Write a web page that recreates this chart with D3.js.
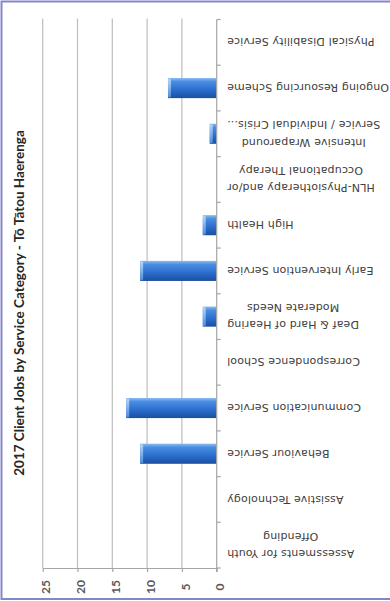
<!doctype html>
<html>
<head>
<meta charset="utf-8">
<style type="text/css">
html,body{
    margin: 0;
    background: #ffffff;
    overflow: hidden;
}
</style>
<script src="https://cdn.jsdelivr.net/npm/d3@7"></script>
</head>
<body>
<script type="text/javascript">
// data, in the chart's own category order (first one ends up at the bottom)
var categories = [
    "Assessments for Youth\nOffending",
    "Assistive Technology",
    "Behaviour Service",
    "Communication Service",
    "Correspondence School",
    "Deaf & Hard of Hearing\nModerate Needs",
    "Early Intervention Service",
    "High Health",
    "HLN-Physiotherapy and/or\nOccupational Therapy",
    "Intensive Wraparound\nService / Individual Crisis...",
    "Ongoing Resourcing Scheme",
    "Physical Disability Service"
];
var jobs = [0, 0, 11, 13, 0, 2, 11, 2, 0, 1, 7, 0];
var valueTicks = [0, 5, 10, 15, 20, 25];
var title = "2017 Client Jobs by Service Category - T\u014d T\u0101tou Haerenga";

(function(){
    var w = 390, h = 601,
        left = 42.7, right = 216.7,
        top = 19.5, bottom = 568;

    var svg = d3.select("body").append("svg")
        .attr("width", w)
        .attr("height", h);

    var defs = svg.append("defs");
    var grad = defs.append("linearGradient")
        .attr("id", "barGrad")
        .attr("x1", 0).attr("y1", 0).attr("x2", 0).attr("y2", 1);
    grad.append("stop").attr("offset", "0%").attr("stop-color", "#8dbcf0");
    grad.append("stop").attr("offset", "18%").attr("stop-color", "#4a8ee2");
    grad.append("stop").attr("offset", "60%").attr("stop-color", "#2b6dcc");
    grad.append("stop").attr("offset", "100%").attr("stop-color", "#1a4f9f");
    var capGrad = defs.append("linearGradient")
        .attr("id", "capGrad")
        .attr("x1", 0).attr("y1", 0).attr("x2", 0).attr("y2", 1);
    capGrad.append("stop").attr("offset", "0%").attr("stop-color", "#b6d6f8");
    capGrad.append("stop").attr("offset", "100%").attr("stop-color", "#4d8ddc");

    // frame
    svg.append("rect")
        .attr("x", 1.5).attr("y", 1.5)
        .attr("width", 420).attr("height", 597.5)
        .attr("fill", "none")
        .attr("stroke", "#8585c9")
        .attr("stroke-width", 2);

    var x = d3.scaleLinear().domain([0, 25]).range([right, left]);
    var y = d3.scaleBand().domain(categories).range([bottom, top])
        .paddingInner(0.56).paddingOuter(0.28);
    var step = y.step();

    // gridlines
    svg.append("g").selectAll("line")
        .data(valueTicks.slice(1))
        .enter().append("line")
            .attr("x1", function(d){return x(d)})
            .attr("x2", function(d){return x(d)})
            .attr("y1", top - 1)
            .attr("y2", bottom)
            .attr("stroke", "#bdbdbd")
            .attr("stroke-width", 1.2);

    // value axis along the bottom
    var xAxis = svg.append("g")
        .attr("transform", "translate(0," + bottom + ")")
        .call(d3.axisBottom(x).tickValues(valueTicks).tickSize(4).tickSizeOuter(0));
    xAxis.select(".domain").attr("stroke", "#a6a6a6").attr("stroke-width", 1.2);
    xAxis.selectAll(".tick line").attr("stroke", "#a6a6a6").attr("stroke-width", 1.2);
    xAxis.selectAll(".tick text")
        .attr("y", 0).attr("dy", "0.35em")
        .attr("transform", "translate(3,19) rotate(-90)")
        .attr("text-anchor", "middle")
        .style("font-family", "Lato, 'Open Sans', sans-serif")
        .style("font-size", "12px")
        .style("font-weight", "bold")
        .attr("fill", "#595959");

    // bars
    var bars = svg.append("g").selectAll("g")
        .data(jobs.map(function(v, i){return {c: categories[i], v: v}}).filter(function(d){return d.v > 0}))
        .enter().append("g");
    bars.append("rect")
        .attr("x", function(d){return x(d.v)})
        .attr("y", function(d){return y(d.c)})
        .attr("width", function(d){return x(0) - x(d.v)})
        .attr("height", y.bandwidth())
        .attr("fill", "url(#barGrad)");
    bars.append("rect")
        .attr("x", function(d){return x(d.v)})
        .attr("y", function(d){return y(d.c) + 0.5})
        .attr("width", 3)
        .attr("height", y.bandwidth() - 1)
        .attr("rx", 1.5)
        .attr("fill", "url(#capGrad)");

    // category axis
    var cat = svg.append("g");
    cat.append("line")
        .attr("x1", right).attr("x2", right)
        .attr("y1", top).attr("y2", bottom + 4)
        .attr("stroke", "#a6a6a6").attr("stroke-width", 1.2);
    cat.selectAll(".tk")
        .data(d3.range(categories.length + 1))
        .enter().append("line")
            .attr("class", "tk")
            .attr("x1", right).attr("x2", right + 4)
            .attr("y1", function(i){return bottom - i * step})
            .attr("y2", function(i){return bottom - i * step})
            .attr("stroke", "#a6a6a6").attr("stroke-width", 1.2);

    // category labels, upside down
    var labels = cat.selectAll("text.lbl")
        .data(categories)
        .enter().append("text")
            .attr("class", "lbl")
            .attr("transform", function(d){
                return "translate(227," + (y(d) + y.bandwidth() / 2) + ") rotate(180)";
            })
            .style("font-family", "'DejaVu Sans', sans-serif")
            .style("font-size", "11px")
            .style("letter-spacing", "0.15px")
            .attr("fill", "#404040");
    labels.each(function(d){
        var lines = d.split("\n"), t = d3.select(this), lh = 17.5;
        var spans = lines.map(function(line, i){
            return t.append("tspan")
                .attr("y", (i - (lines.length - 1) / 2) * lh)
                .attr("dy", "0.35em")
                .text(line);
        });
        // block sits against the axis, lines centred inside it
        var widths = spans.map(function(s){return s.node().getComputedTextLength()});
        var mw = d3.max(widths);
        spans.forEach(function(s, i){
            s.attr("x", -(mw - widths[i]) / 2).attr("text-anchor", "end");
        });
    });

    // title
    svg.append("text")
        .attr("transform", "translate(19,303) rotate(-90)")
        .attr("dy", "0.35em")
        .attr("text-anchor", "middle")
        .style("font-family", "Lato, sans-serif")
        .style("font-size", "13.5px")
        .style("font-weight", "bold")
        .attr("fill", "#262626")
        .text(title);
})();
</script>
</body>
</html>
